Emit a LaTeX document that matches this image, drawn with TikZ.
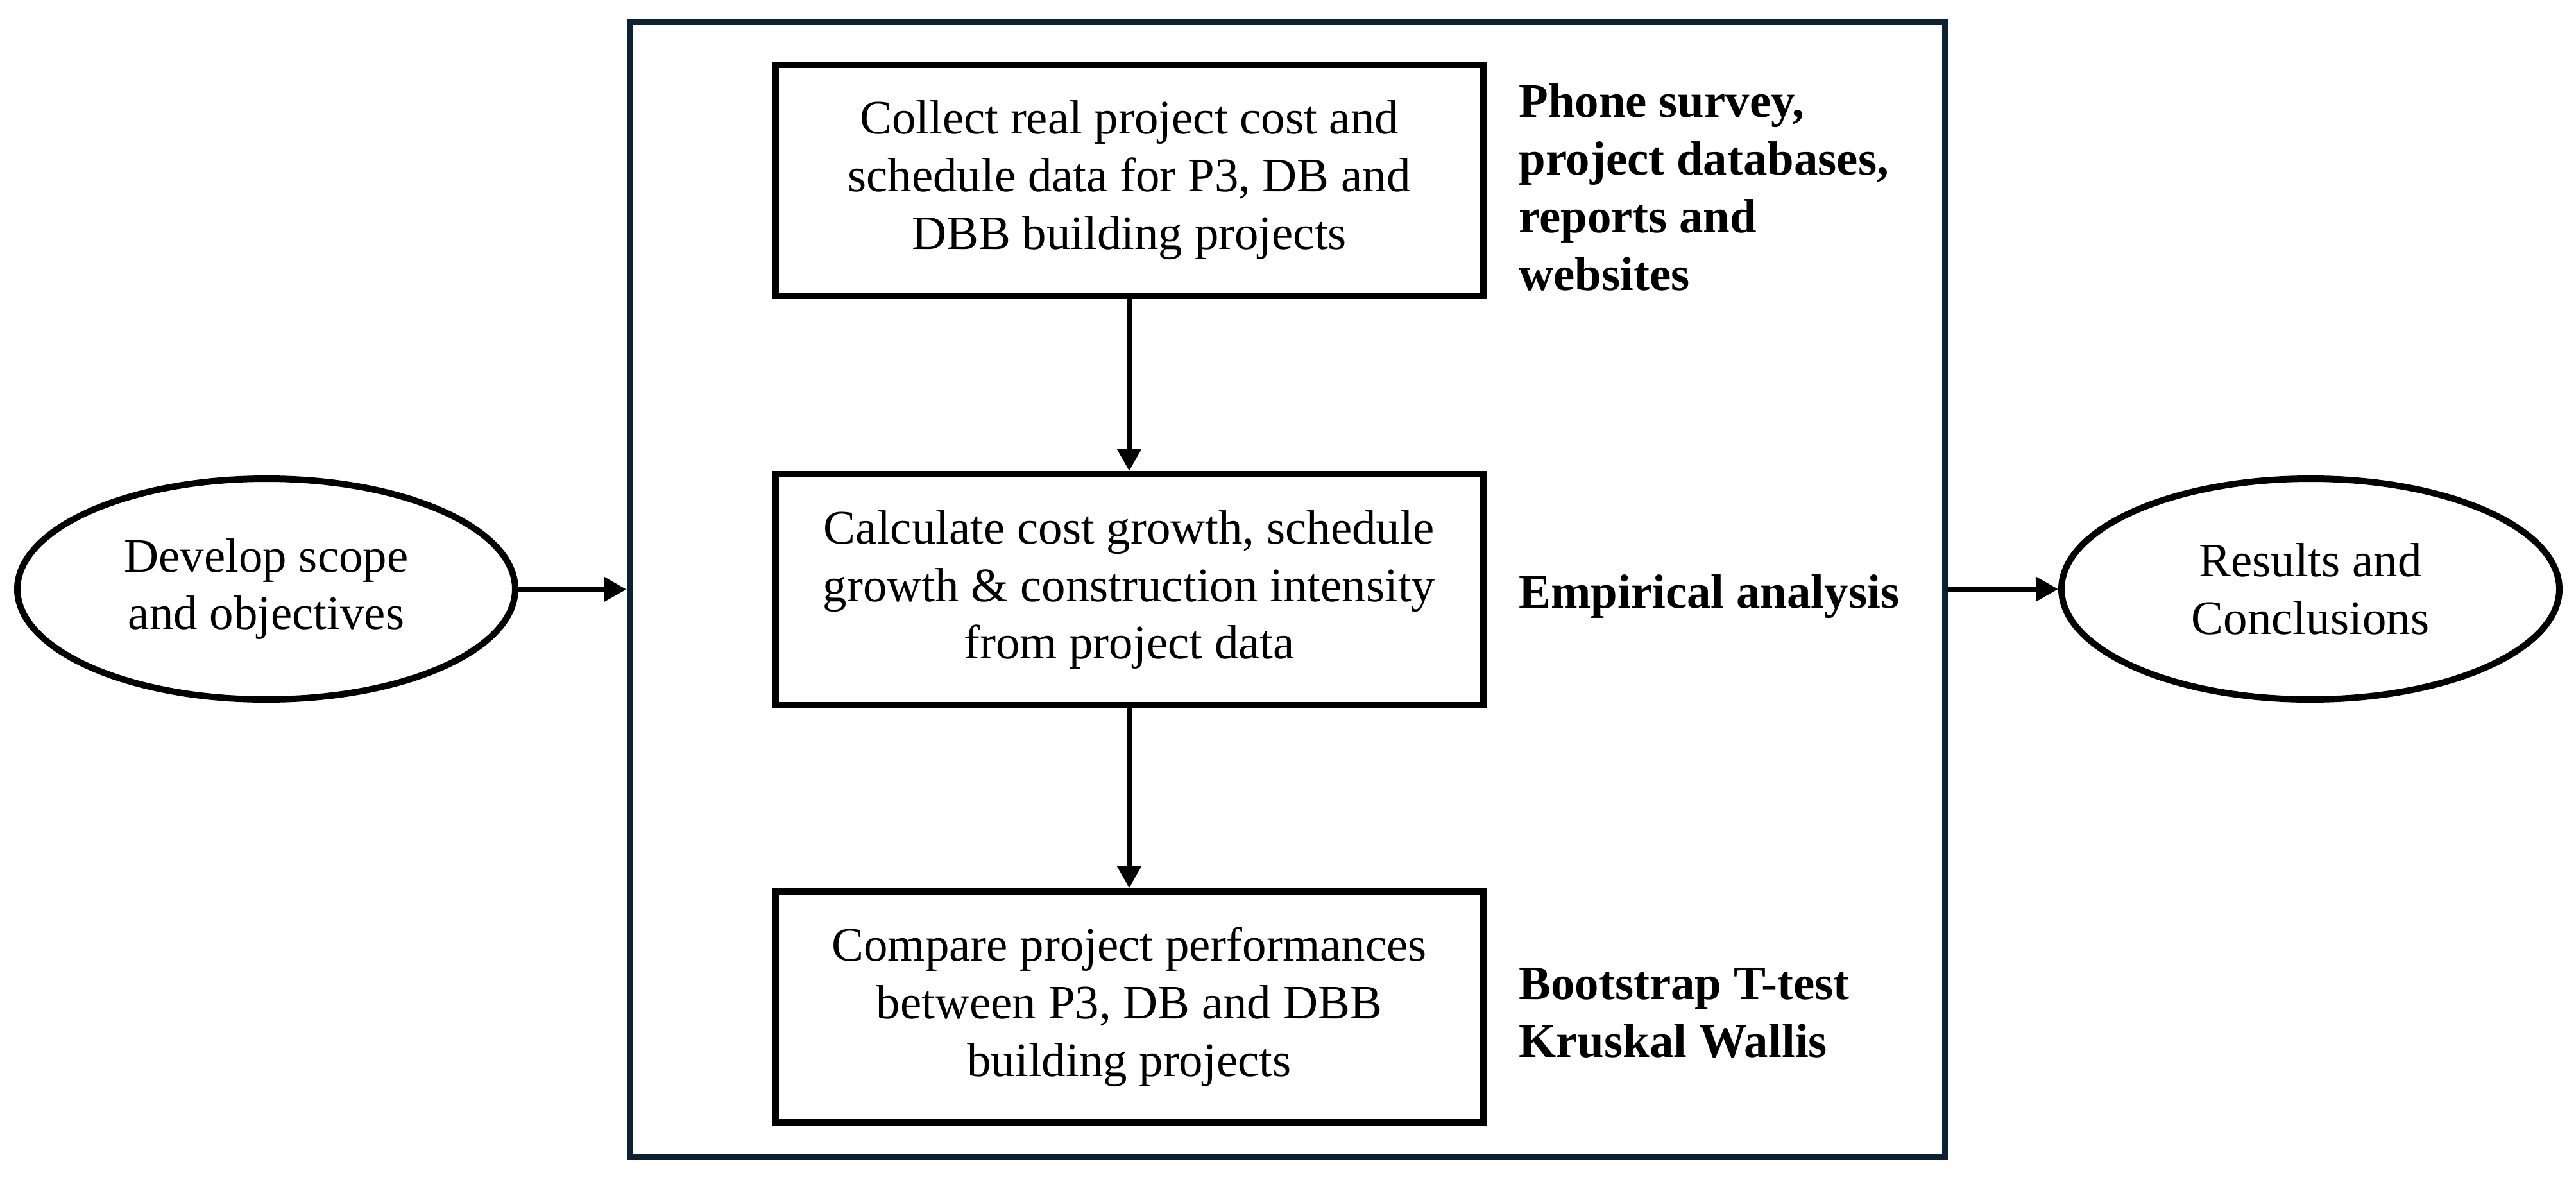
\documentclass[tikz,border=0pt]{standalone}
\usepackage{fontspec}
\setmainfont{Liberation Serif}
\usetikzlibrary{shapes.geometric,arrows.meta}
\definecolor{framenavy}{RGB}{12,34,52}

\begin{document}
\begin{tikzpicture}[
    font=\fontsize{21.3}{25.6}\selectfont,
    stepbox/.style={rectangle, draw, line width=0.1cm, minimum width=11.03cm, minimum height=3.6cm, align=center, inner sep=0pt},
    endpoint/.style={ellipse, draw, line width=0.1cm, minimum width=7.76cm, minimum height=3.44cm, align=center, inner sep=0pt},
    method/.style={anchor=west, align=left, font=\fontsize{21.3}{25.6}\selectfont\bfseries},
    flow/.style={line width=0.08cm, -{Triangle[length=0.35cm, width=0.37cm]}}
  ]
  \useasboundingbox (0,0) rectangle (40.15,-18.42);

  % 枠
  \node[draw=framenavy, line width=0.09cm, minimum width=20.5cm, minimum height=17.67cm] (frame) at (20.06, -9.185) {};

  % 始めと終わり
  \node[endpoint] (scope) at (4.15, -9.18) {Develop scope\\and objectives};
  \node[endpoint] (results) at (36.01, -9.18) {Results and\\Conclusions};

  % 箱
  \node[stepbox] (collect) at (17.6, -2.81) {Collect real project cost and\\schedule data for P3, DB and\\DBB building projects};
  \node[stepbox] (calculate) at (17.6, -9.19) {Calculate cost growth, schedule\\growth \& construction intensity\\from project data};
  \node[stepbox] (compare) at (17.6, -15.69) {Compare project performances\\between P3, DB and DBB\\building projects};

  % ラベル
  \node[method] (sources) at (23.55, -2.92) {Phone survey,\\project databases,\\reports and\\websites};
  \node[method] (empirical) at (23.55, -9.30) {Empirical analysis};
  \node[method] (tests) at (23.55, -15.79) {Bootstrap T-test\\Kruskal Wallis};

  % 矢印
  \draw[flow] (scope.east) -- (frame.west);
  \draw[flow] (frame.east) -- (results.west);
  \draw[flow] (collect) -- (calculate);
  \draw[flow] (calculate) -- (compare);
\end{tikzpicture}
\end{document}
